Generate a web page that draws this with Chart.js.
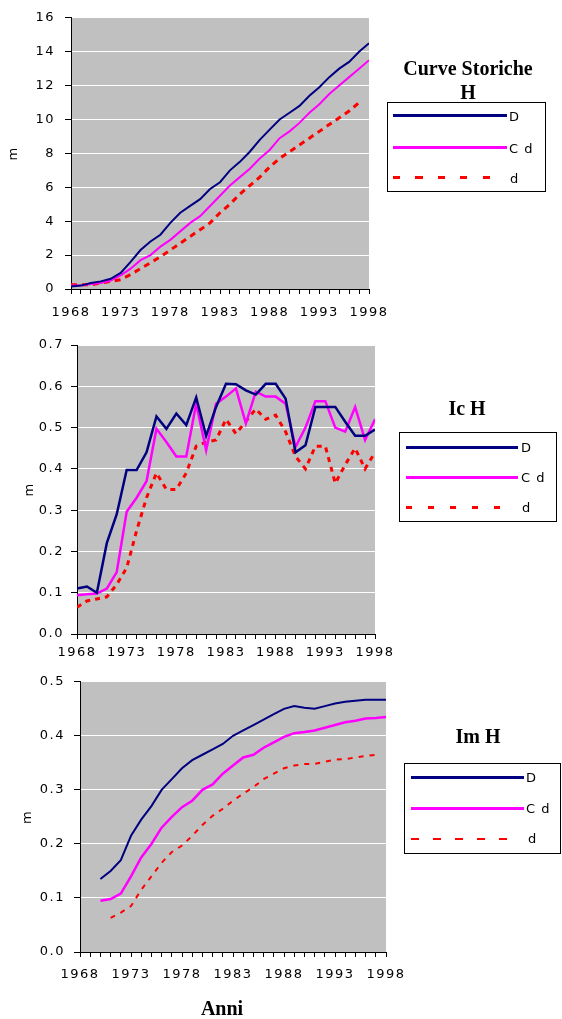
<!DOCTYPE html>
<html>
<head>
<meta charset="utf-8">
<script src="https://cdn.jsdelivr.net/npm/chart.js@4/dist/chart.umd.min.js"></script>
<style>
body{margin:0;background:#fff;width:562px;height:1019px;position:relative;overflow:hidden;font-family:"DejaVu Sans",sans-serif}
canvas{position:absolute;left:0}
.title{position:absolute;font-family:"Liberation Serif",serif;font-weight:bold;font-size:20px;line-height:24px;text-align:center;color:#000}
.legend{position:absolute;border:1px solid #000;background:#fff}
.ln{position:absolute;height:3px}
.lab{position:absolute;font-size:13px;line-height:16px;letter-spacing:1px;color:#000;white-space:pre}
</style>
</head>
<body>
<canvas id="c1" width="562" height="330" style="top:0px"></canvas>
<canvas id="c2" width="562" height="335" style="top:330px"></canvas>
<canvas id="c3" width="562" height="354" style="top:665px"></canvas>

<div class="title" style="left:368px;top:56px;width:200px">Curve Storiche<br>H</div>
<div class="legend" style="left:387px;top:102px;width:157px;height:88px">
  <div class="ln" style="left:5px;top:11px;width:114px;background:#000080"></div>
  <div class="lab" style="left:121px;top:6px">D</div>
  <div class="ln" style="left:5px;top:43px;width:114px;background:#ff00ff"></div>
  <div class="lab" style="left:121px;top:38px">C d</div>
  <div class="ln" style="left:5px;top:73px;width:98px;background:repeating-linear-gradient(to right,#ff0000 0 7px,transparent 7px 22.5px)"></div>
  <div class="lab" style="left:122px;top:68px">d</div>
</div>

<div class="title" style="left:417px;top:396px;width:100px">Ic H</div>
<div class="legend" style="left:399px;top:432px;width:156px;height:88px">
  <div class="ln" style="left:6px;top:13px;width:112px;background:#000080"></div>
  <div class="lab" style="left:121px;top:7px">D</div>
  <div class="ln" style="left:6px;top:43px;width:112px;background:#ff00ff"></div>
  <div class="lab" style="left:121px;top:37px">C d</div>
  <div class="ln" style="left:6px;top:73px;width:96px;background:repeating-linear-gradient(to right,#ff0000 0 6px,transparent 6px 22px)"></div>
  <div class="lab" style="left:122px;top:67px">d</div>
</div>

<div class="title" style="left:428px;top:724px;width:100px">Im H</div>
<div class="legend" style="left:404px;top:763px;width:155px;height:89px">
  <div class="ln" style="left:6px;top:12px;width:113px;background:#000080"></div>
  <div class="lab" style="left:121px;top:6px">D</div>
  <div class="ln" style="left:6px;top:43px;width:113px;background:#ff00ff"></div>
  <div class="lab" style="left:121px;top:37px">C d</div>
  <div class="ln" style="left:6px;top:74px;height:2px;width:96px;background:repeating-linear-gradient(to right,#ff0000 0 8px,transparent 8px 22px)"></div>
  <div class="lab" style="left:123px;top:67px">d</div>
</div>

<div class="title" style="left:172px;top:996px;width:100px">Anni</div>

<script>
var years=[];
for(var yr=1968;yr<=1998;yr++) years.push(yr);
var seriesNames=["D","C d","d"];

// Curve Storiche H (m)
var storD=[0.15,0.2,0.35,0.45,0.6,0.95,1.6,2.3,2.8,3.2,3.9,4.5,4.9,5.3,5.9,6.3,7.0,7.5,8.1,8.8,9.4,10.0,10.4,10.8,11.4,11.9,12.5,13.0,13.4,14.0,14.5];
var storCd=[0.2,0.2,0.3,0.35,0.5,0.8,1.2,1.7,2.0,2.5,2.9,3.4,3.9,4.3,4.9,5.5,6.1,6.6,7.1,7.7,8.2,8.9,9.3,9.8,10.4,10.9,11.5,12.0,12.5,13.0,13.5];
var storSd=[0.25,0.25,0.25,0.35,0.45,0.55,0.85,1.2,1.55,1.9,2.3,2.7,3.1,3.5,3.9,4.5,5.0,5.6,6.1,6.6,7.2,7.7,8.1,8.5,8.9,9.3,9.7,10.1,10.5,11.0,null];

// Ic H (m)
var icD=[0.11,0.115,0.10,0.22,0.29,0.397,0.397,0.44,0.527,0.497,0.534,0.506,0.573,0.48,0.55,0.606,0.605,0.59,0.58,0.606,0.606,0.57,0.44,0.457,0.55,0.55,0.55,0.514,0.48,0.48,0.495];
var icCd=[0.094,0.096,0.098,0.11,0.15,0.296,0.33,0.37,0.497,0.465,0.43,0.43,0.558,0.445,0.558,0.575,0.595,0.51,0.587,0.575,0.575,0.558,0.453,0.50,0.564,0.564,0.50,0.49,0.55,0.47,0.52];
var icSd=[0.065,0.08,0.085,0.09,0.12,0.16,0.25,0.33,0.39,0.35,0.35,0.39,0.455,0.465,0.47,0.52,0.485,0.515,0.545,0.52,0.53,0.49,0.43,0.40,0.455,0.455,0.365,0.41,0.45,0.40,0.44];

// Im H (m)
var imD=[null,null,0.135,0.15,0.17,0.215,0.245,0.27,0.30,0.32,0.34,0.355,0.365,0.375,0.385,0.40,0.41,0.42,0.43,0.44,0.45,0.455,0.452,0.45,0.455,0.46,0.463,0.465,0.467,0.467,0.467];
var imCd=[null,null,0.095,0.098,0.108,0.14,0.175,0.2,0.23,0.25,0.268,0.28,0.30,0.31,0.33,0.345,0.36,0.365,0.378,0.388,0.398,0.405,0.407,0.41,0.415,0.42,0.425,0.428,0.432,0.433,0.435];
var imSd=[null,null,null,0.063,0.073,0.085,0.115,0.14,0.165,0.185,0.197,0.215,0.235,0.252,0.265,0.28,0.293,0.305,0.32,0.33,0.34,0.345,0.348,0.348,0.352,0.356,0.357,0.36,0.363,0.365,null];

var labelYears=[1968,1973,1978,1983,1988,1993,1998];

//grey plot area behind the grid
var plotBg={
	id:'plotBg',
	beforeDraw:function(chart)
	{
		var a=chart.chartArea;
		var ctx=chart.ctx;
		ctx.letterSpacing='1.5px';
		ctx.save();
		ctx.fillStyle='#c0c0c0';
		ctx.fillRect(a.left,a.top,a.right-a.left,a.bottom-a.top);
		ctx.restore();
	}
};

function points(values)
{
	return years.map(function(y,i){ return {x:y,y:values[i]}; });
}

function makeChart(id,values,s)
{
	var ctx=document.getElementById(id).getContext('2d');
	return new Chart(ctx,{
		type:'line',
		data:{
			datasets:[
				{label:seriesNames[0],data:points(values[0]),borderColor:'#000080',borderWidth:s.w[0]},
				{label:seriesNames[1],data:points(values[1]),borderColor:'#ff00ff',borderWidth:s.w[1]},
				{label:seriesNames[2],data:points(values[2]),borderColor:'#ff0000',borderWidth:s.w[2],borderDash:s.dash}
			]
		},
		options:{
			responsive:false,
			animation:false,
			events:[],
			layout:{padding:{left:0,top:s.top,right:s.right,bottom:0}},
			elements:{point:{radius:0},line:{tension:0,fill:false}},
			plugins:{legend:{display:false},tooltip:{enabled:false}},
			scales:{
				x:{
					type:'linear',min:1968,max:1998,
					afterBuildTicks:function(scale){ scale.ticks=years.map(function(v){return {value:v};}); },
					afterFit:function(scale){ scale.height=s.xh; },
					grid:{display:true,drawOnChartArea:false,drawTicks:true,tickLength:5,tickColor:'#000'},
					border:{display:true,color:'#000',width:1},
					ticks:{
						autoSkip:false,maxRotation:0,padding:s.xpad,color:'#000',
						font:{family:'DejaVu Sans',size:13},
						callback:function(v){ return labelYears.indexOf(v)>=0 ? String(v) : ''; }
					}
				},
				y:{
					min:0,max:s.max,
					afterFit:function(scale){ scale.width=s.yw; },
					grid:{
						color:function(c){ return c.tick && c.tick.value>0 ? '#ffffff' : 'rgba(0,0,0,0)'; },
						lineWidth:1,tickLength:6,tickColor:'#000'
					},
					border:{display:true,color:'#000',width:1},
					ticks:{
						stepSize:s.step,padding:s.ypad,color:'#000',
						font:{family:'DejaVu Sans',size:13},
						callback:function(v){ return v.toFixed(s.dec); }
					},
					title:{display:true,text:'m',color:'#000',font:{family:'DejaVu Sans',size:13},padding:{top:s.tpad,bottom:0}}
				}
			}
		},
		plugins:[plotBg]
	});
}

makeChart('c1',[storD,storCd,storSd],{max:16,step:2,dec:0,top:17,right:193,yw:71,xh:41,xpad:11,ypad:10,tpad:6,w:[2,2,3],dash:[6,5]});
makeChart('c2',[icD,icCd,icSd],{max:0.7,step:0.1,dec:1,top:15,right:187,yw:77,xh:31,xpad:6,ypad:7,tpad:22,w:[2.5,2.5,3],dash:[5,5]});
makeChart('c3',[imD,imCd,imSd],{max:0.5,step:0.1,dec:1,top:13,right:176,yw:80,xh:67,xpad:10,ypad:9,tpad:20,w:[2,2.5,2],dash:[5,6]});
</script>
</body>
</html>
